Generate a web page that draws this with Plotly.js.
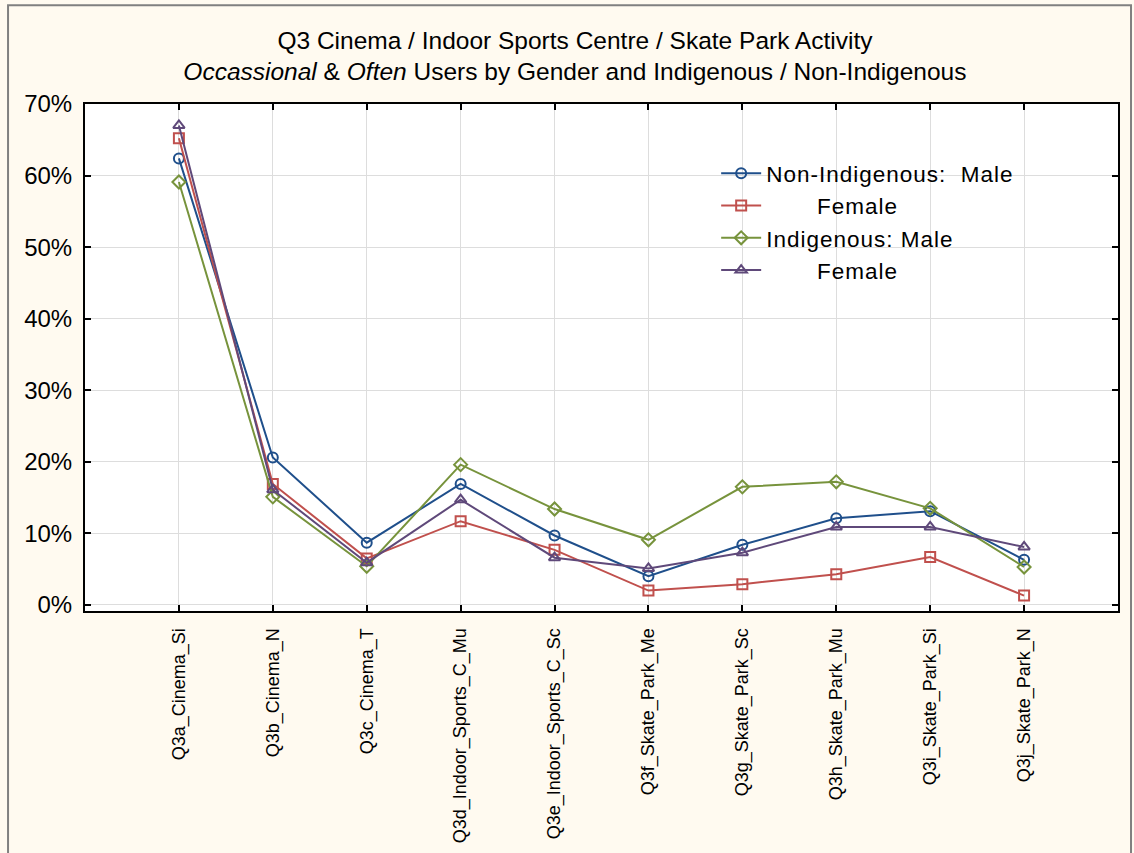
<!DOCTYPE html>
<html>
<head>
<meta charset="utf-8">
<script src="https://cdn.plot.ly/plotly-3.0.1.min.js"></script>
<style>
  body { margin: 0; background: #fff; }
  #chart { width: 1134px; height: 853px; }
  .legendtext { letter-spacing: 1px; }
</style>
</head>
<body>
<div id="chart"></div>
<script>
var cats = ['Q3a_Cinema_Si', 'Q3b_Cinema_N', 'Q3c_Cinema_T', 'Q3d_Indoor_Sports_C_Mu',
  'Q3e_Indoor_Sports_C_Sc', 'Q3f_Skate_Park_Me', 'Q3g_Skate_Park_Sc', 'Q3h_Skate_Park_Mu',
  'Q3i_Skate_Park_Si', 'Q3j_Skate_Park_N'];

var nonIndMale   = [62.4, 20.6, 8.7, 16.9, 9.7, 4.0, 8.4, 12.1, 13.1, 6.3];
var nonIndFemale = [65.2, 16.9, 6.5, 11.7, 7.7, 2.0, 2.9, 4.3, 6.7, 1.3];
var indMale      = [59.1, 15.1, 5.4, 19.6, 13.4, 9.1, 16.5, 17.2, 13.5, 5.3];
var indFemale    = [67.0, 16.1, 5.9, 14.7, 6.6, 5.1, 7.3, 10.9, 10.9, 8.1];

var yTicks = [0, 10, 20, 30, 40, 50, 60, 70];

var NB = '\u00A0';
var pad = NB + NB + NB + NB + NB + NB + NB;

function series(name, y, color, symbol) {
  return {
    x: cats.map(function (c, i) { return i; }),
    y: y,
    name: name,
    type: 'scatter',
    mode: 'lines+markers',
    line: { color: color, width: 2 },
    marker: { symbol: symbol, size: 10, color: color, line: { color: color, width: 2 } },
    hoverinfo: 'none'
  };
}

var data = [
  series('Non-Indigenous:' + NB + NB + 'Male', nonIndMale, '#1F4F8B', 'circle-open'),
  series(pad + 'Female', nonIndFemale, '#C0504D', 'square-open'),
  series('Indigenous: Male', indMale, '#77933C', 'diamond-open'),
  series(pad + 'Female', indFemale, '#5F497A', 'triangle-up-open')
];

var layout = {
  width: 1134,
  height: 853,
  paper_bgcolor: '#FFFAF0',
  plot_bgcolor: '#FFFFFF',
  font: { family: 'Liberation Sans, Arial, sans-serif', color: '#000' },
  margin: { l: 85, r: 16, t: 104, b: 242 },
  title: {
    text: 'Q3 Cinema / Indoor Sports Centre / Skate Park Activity<br><i>Occassional</i> & <i>Often</i> Users by Gender and Indigenous / Non-Indigenous',
    font: { family: 'Liberation Sans, Arial, sans-serif', size: 24.5 },
    x: 0.507, xanchor: 'center', y: 0.943, yanchor: 'top'
  },
  xaxis: {
    range: [-1, 10],
    tickmode: 'array',
    tickvals: cats.map(function (c, i) { return i; }),
    ticktext: cats,
    tickangle: -90,
    tickfont: { size: 18, family: 'Liberation Sans, Arial, sans-serif' },
    ticks: 'inside', ticklen: 6, tickwidth: 2, tickcolor: '#000',
    ticklabelstandoff: 8,
    showgrid: true, gridcolor: '#DDDDDD', gridwidth: 1,
    showline: true, linecolor: '#000', linewidth: 2, mirror: 'ticks',
    zeroline: false
  },
  yaxis: {
    range: [-0.85, 70],
    tickmode: 'array',
    tickvals: yTicks,
    ticktext: yTicks.map(function (v) { return v + '%'; }),
    tickfont: { size: 24 },
    ticks: 'inside', ticklen: 6, tickwidth: 2, tickcolor: '#000',
    ticklabelstandoff: 6,
    showgrid: true, gridcolor: '#DDDDDD', gridwidth: 1,
    showline: true, linecolor: '#000', linewidth: 2, mirror: 'ticks',
    zeroline: false
  },
  legend: {
    x: 0.611, y: 0.905, xanchor: 'left', yanchor: 'top',
    bgcolor: 'rgba(0,0,0,0)',
    font: { size: 22.5 },
    tracegroupgap: 0,
    itemwidth: 40
  },
  shapes: [{
    type: 'rect', xref: 'paper', yref: 'paper',
    x0: -0.0745, x1: 1.0126, y0: -0.49, y1: 1.195,
    line: { color: '#808080', width: 2 }, fillcolor: 'rgba(0,0,0,0)', layer: 'below'
  }],
  showlegend: true
};

Plotly.newPlot('chart', data, layout, { displayModeBar: false, staticPlot: true });
</script>
</body>
</html>
